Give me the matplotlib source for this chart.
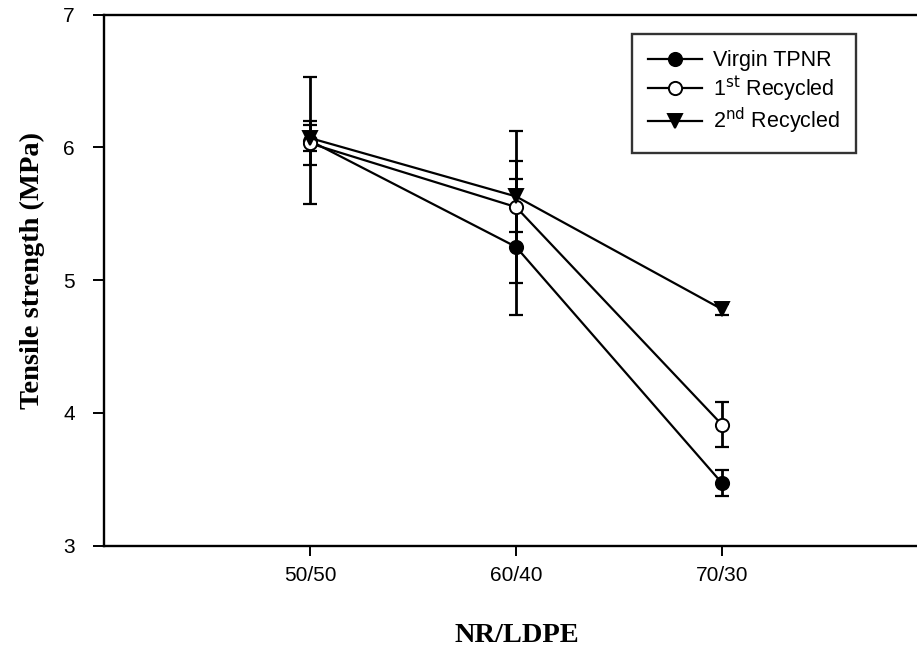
import matplotlib
matplotlib.use("Agg")
import matplotlib.pyplot as plt
import numpy as np

# NR/LDPE blend ratios
categories = ["50/50", "60/40", "70/30"]

# Tensile strength (MPa) and standard deviations
virgin = [6.05, 5.25, 3.47]
virgin_err = [0.48, 0.51, 0.10]
recycled_1 = [6.03, 5.55, 3.91]
recycled_1_err = [0.165, 0.57, 0.17]
recycled_2 = [6.07, 5.63, 4.78]
recycled_2_err = [0.10, 0.27, 0.04]

y_ticks = [3, 4, 5, 6, 7]

fig = plt.figure(figsize=(9.17, 6.54), dpi=100)
ax = fig.add_axes([104 / 917, 1 - 545.5 / 654, 824 / 917, (545.5 - 14.6) / 654])

x = np.arange(1, len(categories) + 1)

series = [
    (virgin, virgin_err, dict(marker="o", mfc="black", mec="black"), "Virgin TPNR"),
    (recycled_1, recycled_1_err, dict(marker="o", mfc="white", mec="black"), r"1$^{\mathrm{st}}$ Recycled"),
    (recycled_2, recycled_2_err, dict(marker="v", mfc="black", mec="black"), r"2$^{\mathrm{nd}}$ Recycled"),
]

handles = []
for i, (vals, errs, mstyle, label) in enumerate(series):
    ax.errorbar(x, vals, yerr=errs, fmt="none", ecolor="black",
                elinewidth=2.0, capsize=4.8, capthick=1.6, zorder=2 + i)
    (h,) = ax.plot(x, vals, color="black", lw=1.6, ms=9.5, mew=1.4,
                   label=label, zorder=5 + i, **mstyle)
    handles.append(h)

ax.set_xlim(0, 4)
ax.set_ylim(3, 7)
ax.set_xticks(x)
ax.set_xticklabels(categories)
ax.set_yticks(y_ticks)
ax.set_yticklabels([str(t) for t in y_ticks])

for side in ["left", "bottom", "top"]:
    ax.spines[side].set_linewidth(1.7)
ax.spines["right"].set_visible(False)

ax.tick_params(axis="x", direction="out", length=7, width=1.4,
               labelsize=15, pad=8)
ax.tick_params(axis="y", direction="out", length=8, width=1.4,
               labelsize=15, pad=13)
for lab in ax.get_xticklabels() + ax.get_yticklabels():
    lab.set_family("Liberation Sans")

leg = ax.legend(handles=handles, loc="upper left",
                bbox_to_anchor=(0.641, 0.9635),
                prop={"family": "Liberation Sans", "size": 15.5},
                frameon=True, fancybox=False, edgecolor="black",
                handlelength=2.5, handletextpad=0.5, labelspacing=0.12,
                borderpad=0.75, borderaxespad=0)
leg.get_frame().set_linewidth(1.7)

fig.text(32 / 917, 0.586, "Tensile strength (MPa)", rotation=90,
         ha="center", va="center", family="Liberation Serif",
         weight="bold", size=20.5)
fig.text(517 / 917, 1 - 636 / 654, "NR/LDPE", ha="center", va="center",
         family="Liberation Serif", weight="bold", size=20.5)

fig.savefig("out.png", dpi=100)
